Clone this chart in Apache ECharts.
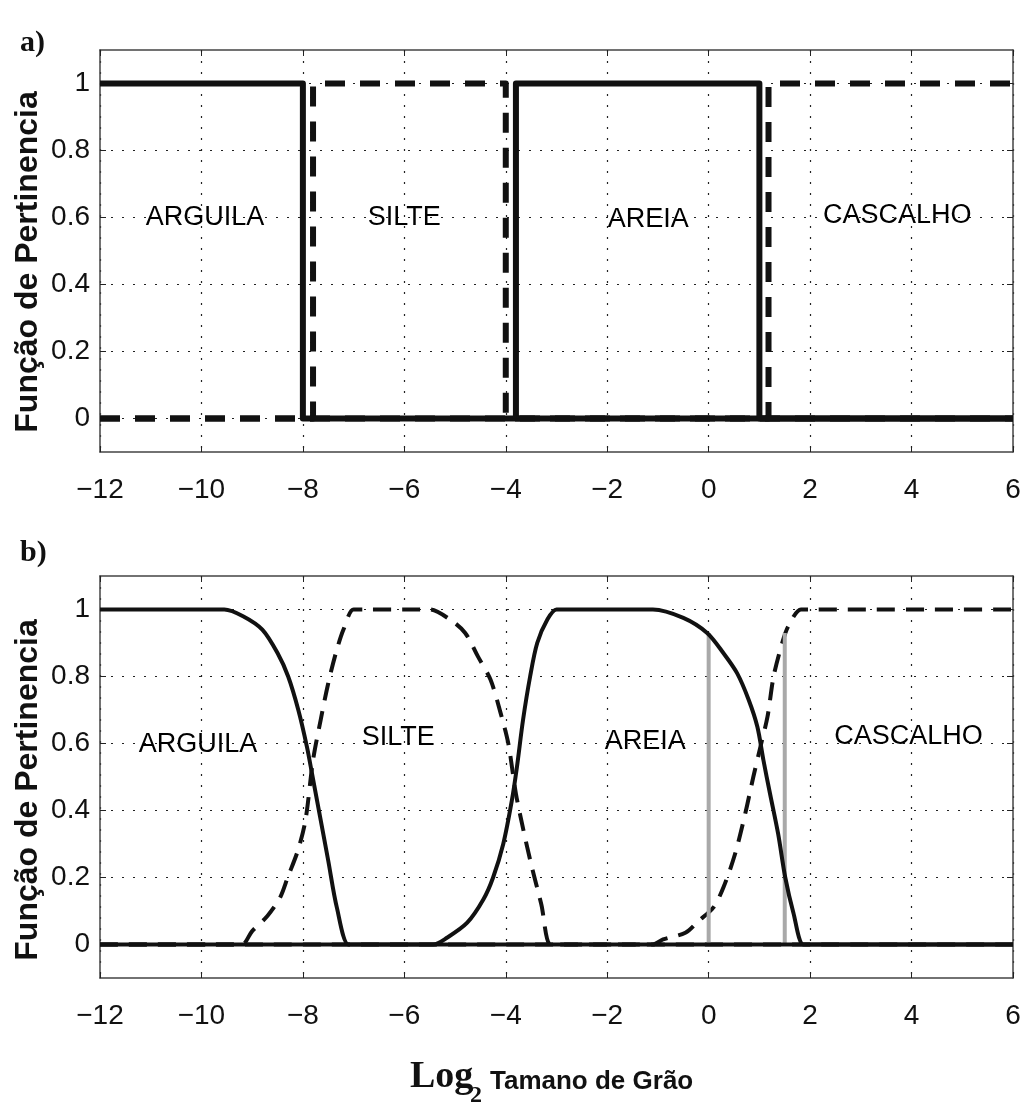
<!DOCTYPE html>
<html>
<head>
<meta charset="utf-8">
<script src="https://cdn.jsdelivr.net/npm/echarts@6/dist/echarts.min.js"></script>
<style>
  html, body { margin: 0; padding: 0; background: #fff; }
  #chart { width: 1029px; height: 1110px; }
</style>
</head>
<body>
<div id="chart"></div>
<script>
// panel a) crisp membership functions, [log2 size, membership]
const aArguila = [[-12, 1], [-8, 1], [-8, 0], [6, 0]];
const aSilte = [[-12, 0], [-7.8, 0], [-7.8, 1], [-4.0, 1], [-4.0, 0], [6, 0]];
const aAreia = [[-3.8, 0], [-3.8, 1], [1.0, 1], [1.0, 0], [6, 0]];
const aCascalho = [[-12, 0], [1.18, 0], [1.18, 1], [6, 1]];

// panel b) fuzzy membership functions
const bArguila = [[-12, 1], [-9.8, 1], [-9.55, 1], [-9.18, 0.98], [-8.8, 0.94], [-8.5, 0.87], [-8.29, 0.8],
  [-8.09, 0.7], [-7.92, 0.59], [-7.82, 0.51], [-7.66, 0.38], [-7.5, 0.25], [-7.33, 0.11], [-7.1, 0],
  [-6.9, 0], [6, 0]];
const bSilte = [[-12, 0], [-9.4, 0], [-9.2, 0], [-9.0, 0.04], [-8.7, 0.085], [-8.45, 0.14], [-8.3, 0.2],
  [-8.1, 0.28], [-7.95, 0.37], [-7.8, 0.55], [-7.65, 0.67], [-7.5, 0.78], [-7.35, 0.87], [-7.2, 0.94],
  [-7.0, 1], [-6.8, 1], [-5.7, 1], [-5.5, 1], [-5.1, 0.97], [-4.8, 0.93], [-4.55, 0.86], [-4.3, 0.79],
  [-4.1, 0.69], [-3.95, 0.6], [-3.8, 0.45], [-3.65, 0.34], [-3.5, 0.24], [-3.3, 0.12], [-3.12, 0],
  [-2.9, 0], [6, 0]];
const bAreia = [[-12, 0], [-5.7, 0], [-5.43, 0], [-5.16, 0.02], [-4.76, 0.065], [-4.44, 0.135], [-4.25, 0.2],
  [-4.05, 0.3], [-3.88, 0.43], [-3.78, 0.53], [-3.66, 0.67], [-3.52, 0.8], [-3.38, 0.9], [-3.18, 0.97],
  [-3.0, 1], [-2.8, 1], [-1.3, 1], [-1.1, 1], [-0.5, 0.975], [-0.03, 0.93], [0.29, 0.87], [0.56, 0.81],
  [0.79, 0.73], [0.96, 0.65], [1.08, 0.55], [1.21, 0.45], [1.37, 0.33], [1.51, 0.2], [1.67, 0.095],
  [1.87, 0], [2.1, 0], [6, 0]];
const bCascalho = [[-12, 0], [-1.4, 0], [-1.1, 0], [-0.9, 0.015], [-0.46, 0.035], [-0.2, 0.07], [0.09, 0.11],
  [0.29, 0.17], [0.52, 0.27], [0.72, 0.39], [0.88, 0.5], [1.02, 0.59], [1.16, 0.68], [1.28, 0.8],
  [1.45, 0.9], [1.57, 0.95], [1.82, 1], [2.0, 1], [6, 1]];
const bMarkers = [[[0, 0], [0, 0.93]], [[1.5, 0], [1.5, 0.93]]];

// class labels
const classNames = ['ARGUILA', 'SILTE', 'AREIA', 'CASCALHO'];
const aLabelPos = [[-9.93, 0.6], [-6.0, 0.6], [-1.19, 0.594], [3.72, 0.606]];
const bLabelPos = [[-10.07, 0.597], [-6.12, 0.618], [-1.25, 0.606], [3.94, 0.62]];

// ticks
const yTicks = [0, 0.2, 0.4, 0.6, 0.8, 1];

const grids = [
  { left: 100, right: 16, top: 50, height: 402 },
  { left: 100, right: 16, top: 576, height: 402 }
];

const axisLine = { show: true, onZero: false, lineStyle: { color: '#444', width: 1.5 } };
const tickIn = { show: true, inside: true, length: 6, lineStyle: { color: '#222', width: 1 } };
const dotted = { show: true, lineStyle: { color: '#222', width: 1.2, type: [2, 9] } };
const minus = v => (v < 0 ? '\u2212' + (-v) : String(v));

const xAxis = [];
const yAxis = [];
[0, 1].forEach(g => {
  xAxis.push({
    type: 'value', gridIndex: g, min: -12, max: 6, interval: 2, position: 'bottom',
    axisLine, axisTick: tickIn, splitLine: dotted,
    axisLabel: { formatter: minus, margin: 24, color: '#111', fontSize: 28, fontFamily: 'Liberation Sans' }
  });
  xAxis.push({
    type: 'value', gridIndex: g, min: -12, max: 6, interval: 2, position: 'top',
    axisLine, axisTick: tickIn, splitLine: { show: false }, axisLabel: { show: false }
  });
  yAxis.push({
    type: 'value', gridIndex: g, min: -0.1, max: 1.1, position: 'left',
    axisLine, axisTick: Object.assign({ customValues: yTicks }, tickIn), splitLine: dotted,
    axisLabel: { customValues: yTicks, margin: 10, color: '#111', fontSize: 28, fontFamily: 'Liberation Sans' }
  });
  yAxis.push({
    type: 'value', gridIndex: g, min: -0.1, max: 1.1, position: 'right',
    axisLine, axisTick: Object.assign({ customValues: yTicks }, tickIn),
    splitLine: { show: false }, axisLabel: { show: false }
  });
});

function curve(data, g, dash, width, color, smooth) {
  return {
    type: 'line', xAxisIndex: g * 2, yAxisIndex: g * 2, data, symbol: 'none',
    animation: false, silent: true, smooth: smooth || false,
    lineStyle: { color: color || '#111', width, type: dash || 'solid', cap: 'butt', join: 'round' }
  };
}

function labels(pos, g) {
  return {
    type: 'scatter', xAxisIndex: g * 2, yAxisIndex: g * 2, symbolSize: 1, silent: true,
    itemStyle: { color: 'rgba(0,0,0,0)', opacity: 1 },
    data: pos.map((p, i) => ({ value: p, name: classNames[i] })),
    label: {
      show: true, position: 'inside', formatter: '{b}', color: '#000',
      fontSize: 27, fontFamily: 'Liberation Sans', textBorderWidth: 0
    }
  };
}

const dashA = [20, 15];
const dashB = [18, 11];

const series = [
  curve(aSilte, 0, dashA, 6),
  curve(aCascalho, 0, dashA, 6),
  curve(aArguila, 0, null, 6),
  curve(aAreia, 0, null, 6),
  labels(aLabelPos, 0),
  curve(bSilte, 1, dashB, 4, null, 0.3),
  curve(bCascalho, 1, dashB, 4, null, 0.3),
  curve(bMarkers[0], 1, null, 4, '#a9a9a9'),
  curve(bMarkers[1], 1, null, 4, '#a9a9a9'),
  curve(bArguila, 1, null, 4, null, 0.3),
  curve(bAreia, 1, null, 4, null, 0.3),
  labels(bLabelPos, 1)
];

const yTitle = (y) => ({
  type: 'text', x: 28, y, rotation: Math.PI / 2,
  style: {
    text: 'Função de Pertinencia', align: 'center', verticalAlign: 'middle',
    font: 'bold 32px "Liberation Sans"', fill: '#111'
  }
});

const graphic = [
  { type: 'text', x: 20, y: 43, style: { text: 'a)', verticalAlign: 'middle', font: 'bold 30px "Liberation Serif"', fill: '#111' } },
  { type: 'text', x: 20, y: 553, style: { text: 'b)', verticalAlign: 'middle', font: 'bold 30px "Liberation Serif"', fill: '#111' } },
  yTitle(262),
  yTitle(790),
  { type: 'text', x: 410, y: 1096, style: { text: 'Log', verticalAlign: 'bottom', font: 'bold 38px "Liberation Serif"', fill: '#111' } },
  { type: 'text', x: 470, y: 1108, style: { text: '2', verticalAlign: 'bottom', font: 'bold 24px "Liberation Serif"', fill: '#111' } },
  { type: 'text', x: 490, y: 1082, style: { text: 'Tamano de Grão', verticalAlign: 'middle', font: 'bold 26px "Liberation Sans"', fill: '#111' } }
];

const chart = echarts.init(document.getElementById('chart'));
chart.setOption({
  backgroundColor: '#fff',
  animation: false,
  grid: grids,
  xAxis,
  yAxis,
  series,
  graphic
});
</script>
</body>
</html>
